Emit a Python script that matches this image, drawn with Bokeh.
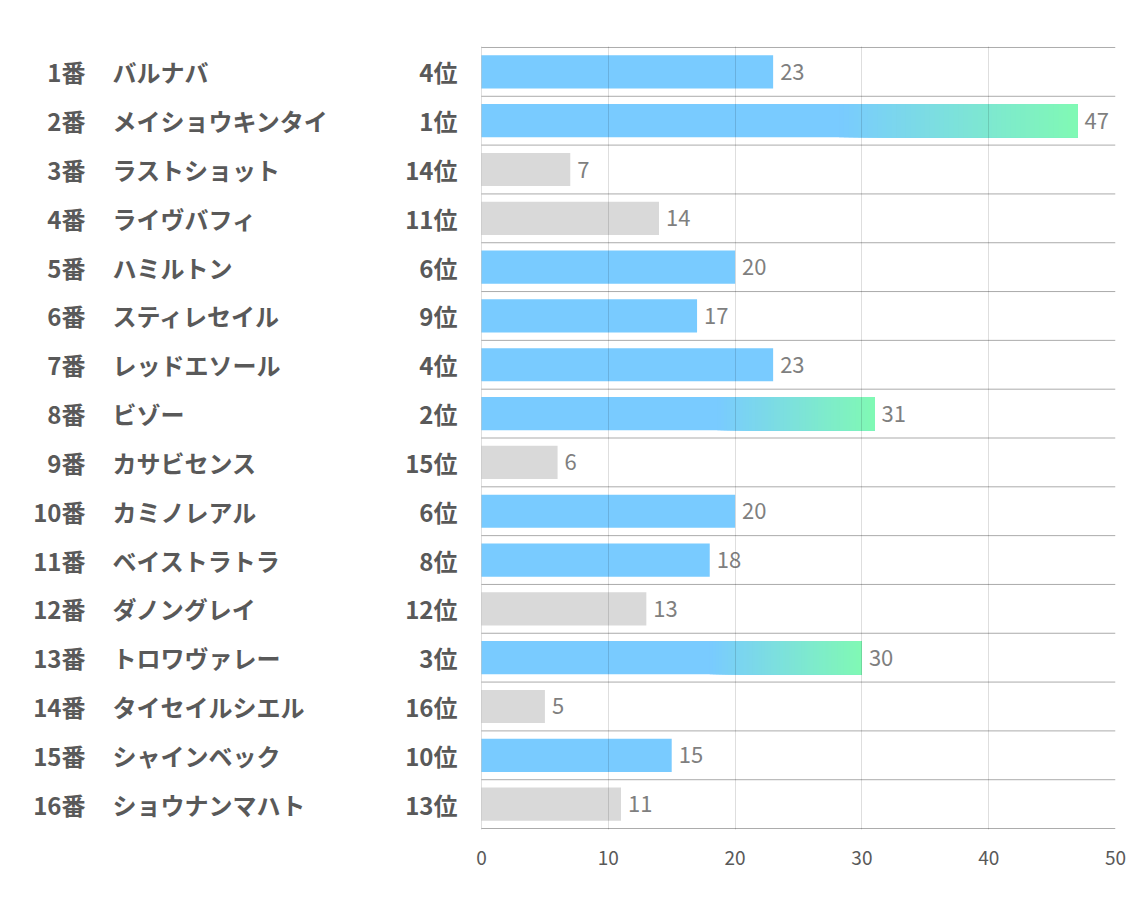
from bokeh.plotting import figure
from bokeh.models import Range1d, FixedTicker
from bokeh.core.properties import value
from bokeh.embed import file_html
from bokeh.resources import INLINE

# ---- data ----
numbers = ["1番", "2番", "3番", "4番", "5番", "6番", "7番", "8番",
           "9番", "10番", "11番", "12番", "13番", "14番", "15番", "16番"]
names = ["バルナバ", "メイショウキンタイ", "ラストショット", "ライヴバフィ", "ハミルトン",
         "スティレセイル", "レッドエソール", "ビゾー", "カサビセンス", "カミノレアル",
         "ベイストラトラ", "ダノングレイ", "トロワヴァレー", "タイセイルシエル",
         "シャインベック", "ショウナンマハト"]
rank_labels = ["4位", "1位", "14位", "11位", "6位", "9位", "4位", "2位",
               "15位", "6位", "8位", "12位", "3位", "16位", "10位", "13位"]
ranks = [4, 1, 14, 11, 6, 9, 4, 2, 15, 6, 8, 12, 3, 16, 10, 13]
values = [23, 47, 7, 14, 20, 17, 23, 31, 6, 20, 18, 13, 30, 5, 15, 11]
x_ticks = [0, 10, 20, 30, 40, 50]

# ---- styling ----
FONT = "Noto Sans CJK JP"
BLUE = (121, 203, 255)
GREEN = (128, 249, 180)
GREY = "#D9D9D9"
LABEL_COLOR = "#595959"
VALUE_COLOR = "#7F7F7F"

n = len(values)
rows = [i + 0.5 for i in range(n)]
BAR_H = 0.68

PX_PER_UNIT = 12.68
FRAME_W = 1107
x_start = 50 - FRAME_W / PX_PER_UNIT

p = figure(width=1126, height=885, output_backend="svg", toolbar_location=None,
           x_range=Range1d(x_start, 50), y_range=Range1d(n + 0.02, -0.02),
           min_border_left=8, min_border_right=11, min_border_top=46, min_border_bottom=56)
p.outline_line_color = None
p.yaxis.visible = False
p.ygrid.visible = False

p.xaxis.ticker = FixedTicker(ticks=x_ticks)
p.xaxis.axis_line_color = None
p.xaxis.major_tick_line_color = None
p.xaxis.minor_tick_line_color = None
p.xaxis.major_label_text_font = FONT
p.xaxis.major_label_text_font_size = "19px"
p.xaxis.major_label_text_color = LABEL_COLOR
p.xaxis.major_label_standoff = 15

p.xgrid.level = "overlay"
p.xgrid.grid_line_color = "black"
p.xgrid.grid_line_alpha = 0.13


def hexcol(c):
    return "#%02x%02x%02x" % tuple(int(round(v)) for v in c)


# base bars
bar_colors = [GREY if r > 10 else hexcol(BLUE) for r in ranks]
p.hbar(y=rows, left=0, right=values, height=BAR_H, fill_color=bar_colors, line_color=None)

# gradient overlay for the top three (each slice runs to the bar end, later ones cover earlier)
g_left, g_right, g_y, g_color = [], [], [], []
STEPS = 50
GSTART = 0.6
for i, (v, r) in enumerate(zip(values, ranks)):
    if r <= 3:
        split = v * GSTART
        for k in range(STEPS):
            a = split + (v - split) * k / STEPS
            t = (k + 0.5) / STEPS
            c = tuple(BLUE[j] + (GREEN[j] - BLUE[j]) * t for j in range(3))
            g_left.append(a); g_right.append(v)
            g_y.append(rows[i]); g_color.append(hexcol(c))
p.hbar(y=g_y, left=g_left, right=g_right, height=BAR_H, fill_color=g_color, line_color=None)

# row separators
bounds = list(range(n + 1))
p.segment(x0=[0] * len(bounds), x1=[50] * len(bounds), y0=bounds, y1=bounds,
          line_color="#ABABAB", line_width=1)

# value labels
p.text(x=values, y=rows, text=[str(v) for v in values], x_offset=7,
       text_baseline="middle", text_align="left", text_font=value(FONT),
       text_font_size="22px", text_color=VALUE_COLOR)

# left labels
NUM_X = (85 - 481) / PX_PER_UNIT
NAME_X = (112 - 481) / PX_PER_UNIT
RANK_X = (457 - 481) / PX_PER_UNIT
for xs, txt, align in [(NUM_X, numbers, "right"), (NAME_X, names, "left"), (RANK_X, rank_labels, "right")]:
    p.text(x=[xs] * n, y=rows, text=txt, text_align=align, text_baseline="middle",
           text_font=value(FONT), text_font_style="bold", text_font_size="24px",
           text_color=LABEL_COLOR)

open("out.html", "w").write(file_html(p, INLINE))
